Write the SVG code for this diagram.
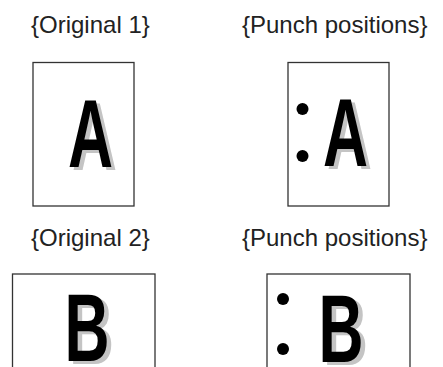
<svg xmlns="http://www.w3.org/2000/svg" width="443" height="367" viewBox="0 0 443 367">
<style>
.lbl{font-family:"Liberation Sans",Arial,sans-serif;font-size:24px;fill:#222}
.page{fill:#fff;stroke:#333;stroke-width:1.3}
.big{font-family:"Liberation Sans",Arial,sans-serif;font-weight:bold;font-size:96px}
.sh{fill:#c4c4c4}
.fg{fill:#000}
.hole{fill:#000}
</style>
<rect width="443" height="367" fill="#fff"/>
<g id="original1">
<text class="lbl" x="31" y="33">{Original 1}</text>
<rect class="page" x="33" y="62.5" width="101" height="143.5"/>
<text class="big sh" transform="translate(72,170) scale(0.65,1)">A</text>
<text class="big fg" transform="translate(68,167) scale(0.65,1)">A</text>
</g>
<g id="punch1">
<text class="lbl" x="242" y="33">{Punch positions}</text>
<rect class="page" x="288" y="62.5" width="101" height="143.5"/>
<circle class="hole" cx="302.5" cy="109" r="6"/>
<circle class="hole" cx="302.5" cy="156" r="6"/>
<text class="big sh" transform="translate(327,169) scale(0.65,1)">A</text>
<text class="big fg" transform="translate(323,166) scale(0.65,1)">A</text>
</g>
<g id="original2">
<text class="lbl" x="31" y="246">{Original 2}</text>
<rect class="page" x="12.5" y="274" width="142.5" height="100"/>
<text class="big sh" transform="translate(69,364) scale(0.65,1)">B</text>
<text class="big fg" transform="translate(64.5,361) scale(0.65,1)">B</text>
</g>
<g id="punch2">
<text class="lbl" x="242" y="246">{Punch positions}</text>
<rect class="page" x="267" y="274" width="143" height="100"/>
<circle class="hole" cx="283" cy="299" r="6"/>
<circle class="hole" cx="283" cy="349" r="6"/>
<text class="big sh" transform="translate(323,365) scale(0.65,1)">B</text>
<text class="big fg" transform="translate(318.5,362) scale(0.65,1)">B</text>
</g>
<g id="connectors"></g>
</svg>
